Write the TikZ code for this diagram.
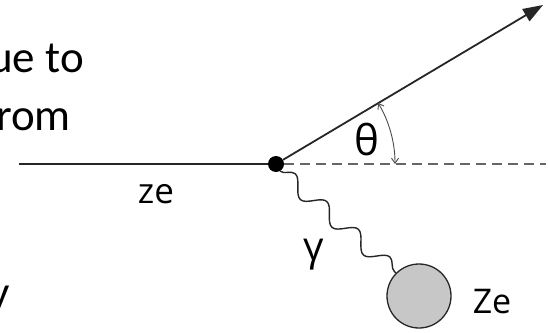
\documentclass[tikz,border=0pt]{standalone}
\usepackage{fontspec}
\setmainfont{Open Sans}
\newfontfamily\slidefont{Carlito}
\usetikzlibrary{arrows.meta,decorations.pathmorphing}
\begin{document}
\begin{tikzpicture}[x=1pt,y=-1pt,
  track/.style={line width=1.8pt,draw=black!85},
  guide/.style={line width=1.3pt,draw=black!60,dash pattern=on 10pt off 6pt},
  anglemark/.style={line width=0.9pt,draw=black!70,{Straight Barb[length=5pt,width=7pt]}-{Straight Barb[length=5pt,width=7pt]}},
  photon/.style={line width=1.4pt,draw=black!85,decorate,decoration={snake,segment length=42pt,amplitude=8pt}},
  lbl/.style={inner sep=0pt,anchor=base,text=black},
  slide/.style={inner sep=0pt,anchor=base east,font=\slidefont\fontsize{45}{54}\selectfont,text=black}]
\useasboundingbox (0,0) rectangle (548,332);
\clip (0,0) rectangle (548,332);
\fill[white] (0,0) rectangle (548,332);
% cut-off slide text
\node[slide] (t1) at (84,72) {ue to};
\node[slide] (t2) at (71,130) {rom};
\node[slide] (t3) at (10,307) {y};
% geometry
\coordinate (left) at (19,164);
\coordinate (right) at (546,164);
\coordinate (tip) at (543,5);
\node[circle,fill=black,inner sep=0pt,minimum size=16pt] (v) at (276,164) {};
\node[circle,draw=black!85,line width=1.3pt,fill=black!22,inner sep=0pt,minimum size=64pt] (ball) at (419,296) {};
\draw[track] (left) -- (v);
\draw[guide] (v.east) -- (right);
\draw[track,-{Triangle[length=20pt,width=14pt]}] (v) -- (tip);
\draw[anglemark] (v.center) ++(0:119) arc[start angle=0,end angle=-30.9,radius=119];
\draw[photon] (v.-60) -- (ball.135);
% labels
\node[lbl,font=\fontsize{35}{40}\selectfont] (ze) at (156,203) {ze};
\node[lbl,font=\fontsize{42}{48}\selectfont] (theta) at (367,155) {θ};
\node[lbl,font=\fontsize{40}{46}\selectfont] (gamma) at (314,260) {γ};
\node[lbl,font=\fontsize{34}{40}\selectfont] (Ze) at (492,313) {Ze};
\end{tikzpicture}
\end{document}
